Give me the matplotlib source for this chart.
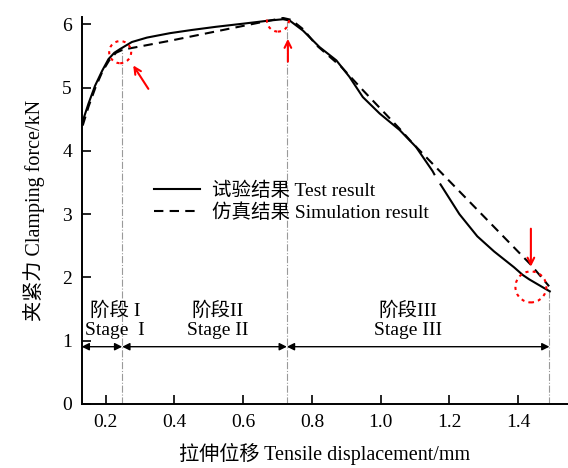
import matplotlib.pyplot as plt
from matplotlib.patches import Ellipse
import numpy as np

plt.rcParams['font.family'] = ['Liberation Serif', 'Noto Sans CJK SC']
plt.rcParams['axes.unicode_minus'] = False

# test result (solid), gap near 1.16 mm
test_x = [0.13, 0.15, 0.169, 0.19, 0.208, 0.225, 0.242, 0.276, 0.32, 0.387, 0.45,
          0.52, 0.60, 0.677, 0.716, 0.735, 0.774, 0.822, 0.871, 0.909, 0.948, 0.997,
          1.055, 1.103, 1.151, 1.156, np.nan, 1.174, 1.229, 1.281, 1.33, 1.388,
          1.413, 1.432, 1.476, 1.492]
test_y = [4.42, 4.75, 5.03, 5.27, 5.45, 5.55, 5.61, 5.72, 5.79, 5.86, 5.91,
          5.96, 6.01, 6.06, 6.08, 6.06, 5.90, 5.64, 5.43, 5.17, 4.85, 4.59,
          4.33, 4.06, 3.68, 3.63, np.nan, 3.47, 3.00, 2.65, 2.41, 2.16,
          2.04, 1.97, 1.83, 1.78]

# simulation result (dashed)
sim_x = [0.133, 0.15, 0.17, 0.19, 0.21, 0.23, 0.25, 0.29, 0.387, 0.532, 0.65,
         0.716, 0.74, 0.775, 0.813, 0.885, 0.948, 1.055, 1.093, 1.238, 1.437, 1.49]
sim_y = [4.40, 4.70, 5.00, 5.25, 5.43, 5.55, 5.60, 5.64, 5.74, 5.90, 6.03,
         6.10, 6.07, 5.92, 5.67, 5.33, 4.96, 4.35, 4.12, 3.31, 2.20, 1.86]

# stage boundaries and the curve height where each guide line stops
stage_x = [0.13, 0.248, 0.727, 1.491]
guide_top = [5.62, 6.05, 1.80]
stage_cn = ['阶段 I', '阶段II', '阶段III']
stage_en = ['Stage  I', 'Stage II', 'Stage III']
stage_label_x = [0.227, 0.526, 1.079]

fig = plt.figure(figsize=(5.68, 4.68), dpi=100)
ax = fig.add_axes([0.1438, 0.1368, 0.8562, 0.8275])

ax.plot(test_x, test_y, color='black', lw=1.5, label='试验结果 Test result')
ax.plot(sim_x, sim_y, color='black', lw=1.5, ls=(0, (4.5, 3)),
        label='仿真结果 Simulation result')

for xv, top in zip(stage_x[1:], guide_top):
    ax.plot([xv, xv], [0, top], color='#9a9a9a', lw=0.8, ls='-.', zorder=0)

arrow_y = 0.905
for x0, x1 in zip(stage_x[:-1], stage_x[1:]):
    ax.annotate('', xy=(x1, arrow_y), xytext=(x0, arrow_y),
                arrowprops=dict(arrowstyle='<|-|>', color='black', lw=1.0,
                                mutation_scale=11, shrinkA=0, shrinkB=0))

for xl, cn, en in zip(stage_label_x, stage_cn, stage_en):
    ax.text(xl, 1.48, cn, ha='center', va='center', fontsize=14)
    ax.text(xl, 1.16, en, ha='center', va='center', fontsize=14)

# red highlights
for (cx, cy), w, h in [((0.242, 5.56), 0.064, 0.35), ((0.701, 6.06), 0.064, 0.35),
                       ((1.437, 1.85), 0.09, 0.49)]:
    ax.add_patch(Ellipse((cx, cy), w, h, fill=False, ec='red', ls=(0, (1.5, 2)),
                         lw=1.5, zorder=5))
for head, tail in [((0.280, 5.35), (0.324, 4.98)), ((0.730, 5.77), (0.730, 5.41)),
                   ((1.437, 2.17), (1.437, 2.77))]:
    ax.annotate('', xy=head, xytext=tail,
                arrowprops=dict(arrowstyle='->', color='red', lw=1.5,
                                mutation_scale=12, shrinkA=0, shrinkB=0))

ax.set_xlim(0.13, 1.545)
ax.set_ylim(0, 6.12)
ax.set_xticks([0.2, 0.4, 0.6, 0.8, 1.0, 1.2, 1.4])
ax.set_xticklabels(['0.2', '0.4', '0.6', '0.8', '1.0', '1.2', '1.4'])
ax.set_yticks([0, 1, 2, 3, 4, 5, 6])
ax.tick_params(direction='in', length=6.5, width=1.2, labelsize=14)
ax.tick_params(axis='x', pad=7)
ax.tick_params(axis='y', pad=7)
for s in ['top', 'right']:
    ax.spines[s].set_visible(False)
for s in ['left', 'bottom']:
    ax.spines[s].set_linewidth(1.4)

ax.set_xlabel('拉伸位移 Tensile displacement/mm', fontsize=14.5, labelpad=9)
ax.set_ylabel('夹紧力 Clamping force/kN', fontsize=14.5, labelpad=12)

ax.legend(loc='upper left', bbox_to_anchor=(0.128, 0.60), frameon=False,
          fontsize=14, borderpad=0, handlelength=2.4, handletextpad=0.6,
          labelspacing=0.2)

fig.savefig('out.png', dpi=100)
